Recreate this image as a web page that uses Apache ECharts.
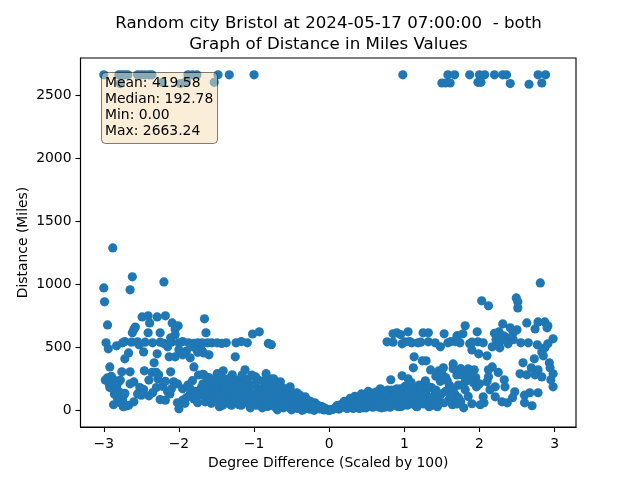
<!DOCTYPE html>
<html><head><meta charset="utf-8">
<style>html,body{margin:0;padding:0;background:#fff}#c{width:640px;height:480px}</style>
<script src="https://cdn.jsdelivr.net/npm/echarts@6/dist/echarts.min.js"></script>
</head><body><div id="c"></div>
<script>
const titleLines = ["Random city Bristol at 2024-05-17 07:00:00  - both", "Graph of Distance in Miles Values"];
const statLines = ["Mean: 419.58", "Median: 192.78", "Min: 0.00", "Max: 2663.24"];
const xTicks = [-3,-2,-1,0,1,2,3];
const yTicks = [0,500,1000,1500,2000,2500];
const topLeft = [[-3,2660],[-2.8,2660],[-2.76,2660],[-2.72,2660],[-2.68,2660],[-2.55,2660],[-2.5,2660],[-2.45,2660],[-2.4,2660],[-2.36,2660],[-1.88,2660],[-1.82,2660],[-1.76,2660],[-1.48,2660],[-1.33,2660],[-1,2660],[-2.78,2590],[-2.22,2600],[-1.98,2590],[-1.9,2610],[-1.53,2600]];
const topRight = [[0.98,2660],[1.58,2660],[1.67,2660],[1.5,2595],[1.55,2595],[1.61,2595],[1.87,2660],[2,2660],[2.07,2660],[1.98,2600],[2.02,2600],[2.2,2660],[2.31,2660],[2.36,2660],[2.41,2590],[2.66,2585],[2.78,2660],[2.88,2660],[2.83,2595]];
const leftHigh = [[-2.88,1287],[-2.62,1058],[-2.65,955],[-2.2,1018],[-3,970],[-2.99,860],[-2.95,677],[-2.49,740],[-2.41,749],[-2.29,740],[-2.18,749],[-1.66,725],[-2.39,693],[-2.41,615],[-2.58,660],[-2.62,615],[-2.6,640],[-2.09,693],[-2.01,670],[-2.05,645],[-2.25,615],[-2.05,598],[-1.64,615],[-2.11,575]];
const leftBand = [[-2.97,535],[-2.94,487],[-2.83,511],[-2.75,535],[-2.72,545],[-2.63,540],[-2.55,543],[-2.53,519],[-2.47,463],[-2.67,455],[-2.72,408],[-2.45,540],[-2.35,535],[-2.25,540],[-2.15,503],[-2.29,448],[-2.13,424],[-2.05,424],[-1.95,440],[-1.85,416],[-2.2,530],[-2.1,540],[-2.0,535],[-2.0,480],[-1.95,545],[-1.87,535],[-1.8,530],[-1.75,535],[-1.7,480],[-1.69,535],[-1.56,535],[-1.49,535],[-1.37,535],[-1.24,535],[-1.17,545],[-1.09,535],[-0.81,530],[-0.77,520],[-1.02,605],[-0.93,622],[-1.67,455],[-1.6,440],[-1.25,424],[-1.9,470],[-1.8,500],[-1.75,460],[-1.62,535],[-1.43,530]];
const leftMid = [[-2.92,344],[-2.95,258],[-2.98,240],[-2.9,270],[-2.8,226],[-2.76,305],[-2.65,305],[-2.46,313],[-2.33,376],[-2.36,300],[-2.3,300],[-2.27,281],[-2.11,305],[-2.07,226],[-2.4,240],[-2.65,210],[-2.6,225],[-2.52,180],[-2.47,165],[-2.3,180],[-2.22,190],[-1.8,344],[-1.74,280],[-1.68,285],[-2.93,210],[-2.88,220],[-2.83,190],[-2.85,160],[-2.92,180],[-2.78,240],[-2.72,135],[-2.55,130],[-2.5,120],[-2.4,115],[-2.35,140],[-2.15,150],[-2.1,170],[-2.02,210],[-1.95,170],[-1.88,200],[-1.85,130],[-1.82,235],[-1.78,150],[-2.9,225],[-2.85,235],[-2.8,150],[-2.75,85],[-2.18,230],[-2.28,250]];
const leftLow = [[-2.87,44],[-2.73,123],[-2.74,28],[-2.67,40],[-2.6,67],[-2.82,100],[-2.86,130],[-2.78,60],[-2.7,35],[-2.25,85],[-2.18,80],[-2,12],[-2.02,60],[-1.95,80],[-1.9,100],[-2.12,130],[-1.8,90],[-1.75,60],[-1.72,120],[-1.67,281],[-1.65,67],[-1.6,150],[-1.58,90],[-1.55,200],[-1.52,110],[-1.49,290],[-1.46,28],[-1.41,313],[-1.44,160],[-1.4,70],[-1.36,230],[-1.33,130],[-1.29,281],[-1.27,60],[-1.25,180],[-1.2,44],[-1.18,100],[-1.15,230],[-1.12,321],[-1.1,130],[-1.05,20],[-1.04,200],[-1,80],[-0.98,265],[-0.95,150],[-0.92,100],[-0.89,20],[-0.87,180],[-0.84,290],[-0.8,60],[-0.78,130],[-0.74,250],[-0.72,180],[-0.69,4],[-0.68,90],[-0.65,226],[-0.62,140],[-0.6,50],[-0.58,170],[-0.55,100],[-0.52,186],[-0.5,4],[-0.48,60],[-0.45,130],[-0.43,139],[-0.4,40],[-0.38,90],[-0.36,0],[-0.34,60],[-0.32,107],[-0.28,30],[-0.25,70],[-0.22,10],[-0.2,0],[-0.19,59],[-0.16,25],[-0.13,12],[-0.1,30],[-0.07,3],[-0.03,8],[0,0],[-1.92,55],[-1.85,170],[-1.7,180],[-1.62,230],[-1.48,70],[-1.38,100],[-1.32,90],[-1.22,140],[-1.08,70],[-0.88,60],[-0.75,50],[-0.66,70],[-0.56,40]];
const leftFill = [[-1.68,210],[-1.66,120],[-1.64,170],[-1.6,260],[-1.57,55],[-1.55,130],[-1.53,240],[-1.5,170],[-1.5,80],[-1.47,220],[-1.45,120],[-1.43,260],[-1.42,40],[-1.39,190],[-1.37,145],[-1.35,55],[-1.34,250],[-1.31,200],[-1.3,40],[-1.28,160],[-1.26,110],[-1.24,240],[-1.23,75],[-1.21,200],[-1.19,160],[-1.17,40],[-1.16,280],[-1.14,100],[-1.13,190],[-1.11,60],[-1.09,245],[-1.07,160],[-1.06,110],[-1.03,280],[-1.02,60],[-1.01,130],[-0.99,205],[-0.97,40],[-0.96,110],[-0.94,240],[-0.93,170],[-0.91,60],[-0.9,130],[-0.86,235],[-0.85,90],[-0.83,150],[-0.82,30],[-0.81,210],[-0.79,250],[-0.77,100],[-0.76,170],[-0.73,30],[-0.71,130],[-0.7,210],[-0.67,30],[-0.64,100],[-0.63,180],[-0.61,20],[-0.59,120],[-0.57,70],[-0.54,150],[-0.53,20],[-0.51,100],[-0.49,140],[-0.47,25],[-0.46,85],[-0.44,100],[-0.42,15],[-0.41,65],[-0.39,120],[-0.37,30],[-0.35,85],[-0.33,10],[-0.31,50],[-0.3,85],[-0.27,55],[-0.26,10],[-0.24,40],[-0.21,30],[-0.18,15],[-0.15,40],[-0.12,28],[-0.09,10],[-0.06,18],[-0.02,2]];
const rightLow = [[0.03,5],[0.07,15],[0.1,35],[0.13,10],[0.16,45],[0.2,70],[0.22,20],[0.25,60],[0.28,95],[0.31,30],[0.34,110],[0.37,60],[0.4,15],[0.43,130],[0.46,80],[0.5,40],[0.52,150],[0.55,100],[0.58,25],[0.62,145],[0.65,90],[0.68,170],[0.7,20],[0.72,120],[0.75,60],[0.78,160],[0.82,242],[0.85,120],[0.88,70],[0.92,28],[0.95,170],[0.97,273],[1,130],[1.03,80],[1.05,250],[1.08,190],[1.1,140],[1.12,337],[1.15,60],[1.17,28],[1.2,200],[1.22,110],[1.25,150],[1.28,234],[1.3,80],[1.33,28],[1.36,180],[1.4,120],[1.44,28],[1.46,313],[1.48,230],[1.52,337],[1.55,150],[1.57,234],[1.6,90],[1.64,44],[1.67,130],[1.7,280],[1.72,200],[1.75,70],[0.45,20],[0.6,60],[0.8,40],[1.26,50],[1.38,60]];
const rightFill = [[0.01,2],[0.05,8],[0.09,20],[0.12,40],[0.15,20],[0.18,30],[0.21,55],[0.24,15],[0.27,45],[0.3,75],[0.32,15],[0.35,80],[0.38,35],[0.41,100],[0.42,55],[0.44,25],[0.47,115],[0.48,60],[0.49,20],[0.51,90],[0.53,120],[0.54,55],[0.56,30],[0.57,135],[0.59,85],[0.61,110],[0.63,35],[0.64,60],[0.66,140],[0.67,25],[0.69,100],[0.71,60],[0.73,150],[0.74,25],[0.76,100],[0.77,130],[0.79,70],[0.81,25],[0.83,160],[0.84,90],[0.86,40],[0.87,140],[0.89,110],[0.9,170],[0.91,60],[0.93,130],[0.94,90],[0.96,30],[0.98,150],[0.99,60],[1.01,190],[1.02,110],[1.04,40],[1.06,150],[1.07,85],[1.09,220],[1.11,50],[1.13,110],[1.14,165],[1.16,30],[1.18,75],[1.19,130],[1.21,60],[1.23,180],[1.27,100],[1.29,130],[1.31,190],[1.34,60],[1.37,100],[1.39,40],[1.42,160],[1.45,85],[1.49,130],[1.53,60]];
const rightBand = [[0.77,543],[0.85,606],[0.85,540],[0.9,614],[0.95,600],[1.05,622],[1.1,535],[1.22,540],[1.25,614],[1.32,614],[1.53,606],[1.71,590],[0.97,527],[1.01,543],[1.07,545],[1.18,535],[1.32,543],[1.41,535],[1.48,503],[1.58,535],[1.62,545],[1.68,545],[1.13,424],[1.24,392],[1.29,392],[1.65,368],[1.81,670],[1.97,622],[1.78,606],[1.7,590],[1.98,543],[1.87,527],[1.9,540],[2.05,535],[1.74,535],[1.9,479],[1.99,448],[2.1,432],[2.31,685],[2.63,693],[2.78,701],[2.87,701],[2.91,670],[2.74,645],[2.9,654],[2.5,638],[2.41,654],[2.45,614],[2.45,560],[2.35,580],[2.26,622],[2.2,610],[2.98,567],[2.91,527],[2.87,495],[2.55,535],[2.65,535],[2.77,519],[2.83,463],[2.27,543],[2.38,527],[2.17,503],[2.27,495],[2.81,1010],[2.03,868],[2.12,829],[2.49,891],[2.51,860],[2.51,812],[2.32,590],[2.22,560]];
const rightMid = [[2.85,432],[2.73,408],[2.58,376],[2.93,376],[2.94,337],[2.69,337],[2.78,321],[2.98,289],[2.54,289],[2.63,281],[2.74,281],[2.83,265],[2.95,242],[2.98,186],[2.17,344],[2.12,321],[1.65,330],[1.85,329],[1.93,321],[1.77,281],[2.12,265],[2.33,242],[2.1,226],[1.81,226],[1.92,218],[2.21,186],[2.34,186],[2.14,162],[1.81,162],[1.96,186],[1.65,162],[2.78,139],[2.67,139],[2.47,147],[2.21,107],[2.05,107],[2.6,120],[2.44,100],[2.37,59],[2.3,67],[2.6,59],[2.7,36],[2.01,44],[1.9,52],[1.79,20],[1.64,80],[1.72,100],[1.85,110],[1.7,50],[1.88,240],[1.8,300],[2.06,60],[1.62,110],[1.35,320],[1.42,270],[1.5,290],[1.55,260],[1.6,200],[1.75,330],[1.85,280],[1.95,260],[2,210],[2.25,300]];
const points = [...topLeft,...topRight,...leftHigh,...leftBand,...leftMid,...leftLow,...leftFill,...rightLow,...rightFill,...rightBand,...rightMid];
const font = "'DejaVu Sans'";
const chart = echarts.init(document.getElementById('c'), null, {renderer:'canvas'});
chart.setOption({
  animation:false,
  backgroundColor:'#fff',
  title:[
    {text:titleLines.join('\n'),left:323.5,top:8,textAlign:'center',textStyle:{fontFamily:font,fontSize:16.67,fontWeight:'normal',color:'#000',lineHeight:21}},
    {text:statLines.join('\n'),left:101,top:72,padding:[3,5,4,4],backgroundColor:'rgba(245,222,179,0.5)',borderColor:'rgba(0,0,0,0.5)',borderWidth:1,borderRadius:4,z:10,textStyle:{fontFamily:font,fontSize:13.9,fontWeight:'normal',color:'#000',lineHeight:16.2}}
  ],
  grid:{left:80.5,top:58,width:495.5,height:369,show:true,borderColor:'#000',borderWidth:1.1,backgroundColor:'transparent'},
  xAxis:{type:'value',min:-3.31,max:3.285,name:'Degree Difference (Scaled by 100)',nameLocation:'middle',nameGap:29,nameMoveOverlap:false,
    nameTextStyle:{fontFamily:font,fontSize:13.9,color:'#000'},
    axisLine:{show:true,onZero:false,lineStyle:{color:'#000',width:1.1}},
    axisTick:{show:true,length:5,lineStyle:{color:'#000',width:1.1},customValues:xTicks},
    axisLabel:{fontFamily:font,fontSize:13.9,color:'#000',margin:10,customValues:xTicks,formatter:v=>String(v).replace('-','\u2212')},
    splitLine:{show:false}},
  yAxis:{type:'value',min:-132.4,max:2793,name:'Distance (Miles)',nameLocation:'middle',nameGap:50,nameMoveOverlap:false,
    nameTextStyle:{fontFamily:font,fontSize:13.9,color:'#000'},
    axisLine:{show:true,onZero:false,lineStyle:{color:'#000',width:1.1}},
    axisTick:{show:true,length:5,lineStyle:{color:'#000',width:1.1},customValues:yTicks},
    axisLabel:{fontFamily:font,fontSize:13.9,color:'#000',margin:9,customValues:yTicks,formatter:v=>String(v)},
    splitLine:{show:false}},
  series:[{type:'scatter',data:points,symbol:'circle',symbolSize:9.2,itemStyle:{color:'#1f77b4',opacity:1},clip:false,z:2}]
});
</script></body></html>
